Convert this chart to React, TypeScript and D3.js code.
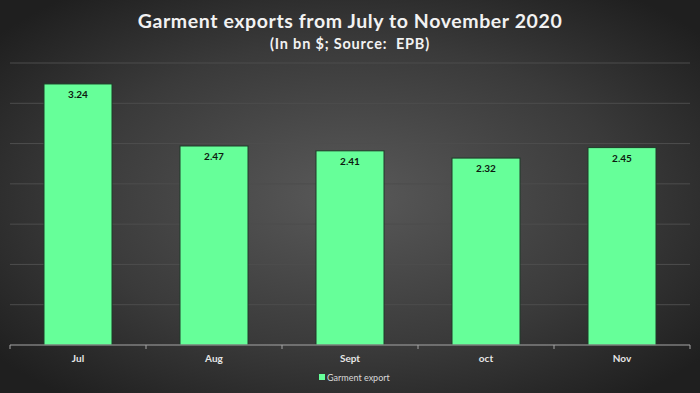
import React from "react";
import * as d3 from "d3";

const months = ["Jul", "Aug", "Sept", "oct", "Nov"];
const exportsBn = [3.24, 2.47, 2.41, 2.32, 2.45];
const yTicks = [0, 0.5, 1, 1.5, 2, 2.5, 3, 3.5];

const W = 700;
const H = 393;
const margin = { top: 63, right: 10, bottom: 48, left: 10 };
const font = "Lato, 'Open Sans', sans-serif";

export default function App() {
  const x = d3
    .scaleBand()
    .domain(months)
    .range([margin.left, W - margin.right])
    .paddingInner(0.5)
    .paddingOuter(0.25);
  const y = d3
    .scaleLinear()
    .domain([0, 3.5])
    .range([H - margin.bottom, margin.top]);
  const base = y(0);

  // tick marks sit on band edges
  const step = x.step();
  const edges = d3.range(months.length + 1).map((i) => margin.left + i * step);

  return (
    <svg
      width={W}
      height={H}
      style={{ position: "absolute", left: 0, top: 0 }}
    >
      <defs>
        <radialGradient id="bg" cx="0.5" cy="0.5" r="0.65">
          <stop offset="0" stopColor="#595959" />
          <stop offset="0.6" stopColor="#3a3a3a" />
          <stop offset="1" stopColor="#1f1f1f" />
        </radialGradient>
      </defs>
      <rect width={W} height={H} fill="url(#bg)" />

      <text
        x={W / 2}
        y={28}
        textAnchor="middle"
        fill="#f2f2f2"
        fontFamily={font}
        fontWeight="bold"
        fontSize={19.5}
        letterSpacing={0.6}
      >
        Garment exports from July to November 2020
      </text>
      <text
        x={W / 2}
        y={49}
        textAnchor="middle"
        fill="#f2f2f2"
        fontFamily={font}
        fontWeight="bold"
        fontSize={14.5}
        letterSpacing={0.8}
        style={{ whiteSpace: "pre" }}
      >
        (In bn $; Source:  EPB)
      </text>

      {/* gridlines */}
      {yTicks.slice(1).map((t) => (
        <line
          key={t}
          x1={margin.left}
          x2={W - margin.right}
          y1={y(t)}
          y2={y(t)}
          stroke="#4d4d4d"
          strokeWidth={1}
        />
      ))}

      {/* bars */}
      {months.map((m, i) => (
        <g key={m}>
          <rect
            x={x(m)}
            y={y(exportsBn[i])}
            width={x.bandwidth()}
            height={base - y(exportsBn[i])}
            fill="#66ff99"
            stroke="#1e3a28"
            strokeWidth={1}
          />
          <text
            x={(x(m) as number) + x.bandwidth() / 2}
            y={y(exportsBn[i]) + 14}
            textAnchor="middle"
            fill="#0d1a10"
            fontFamily={font}
            fontWeight="bold"
            fontSize={10}
          >
            {exportsBn[i].toFixed(2)}
          </text>
          <text
            x={(x(m) as number) + x.bandwidth() / 2}
            y={base + 17}
            textAnchor="middle"
            fill="#e6e6e6"
            fontFamily={font}
            fontWeight="bold"
            fontSize={10}
          >
            {m}
          </text>
        </g>
      ))}

      {/* x axis */}
      <line
        x1={margin.left}
        x2={W - margin.right}
        y1={base}
        y2={base}
        stroke="#a6a6a6"
        strokeWidth={1}
      />
      {edges.map((e, i) => (
        <line
          key={i}
          x1={e}
          x2={e}
          y1={base}
          y2={base + 4}
          stroke="#a6a6a6"
          strokeWidth={1}
        />
      ))}

      {/* legend */}
      <rect x={319} y={374} width={6} height={6} fill="#66ff99" />
      <text
        x={327}
        y={380.5}
        fill="#d9d9d9"
        fontFamily={font}
        fontSize={9}
      >
        Garment export
      </text>
    </svg>
  );
}
